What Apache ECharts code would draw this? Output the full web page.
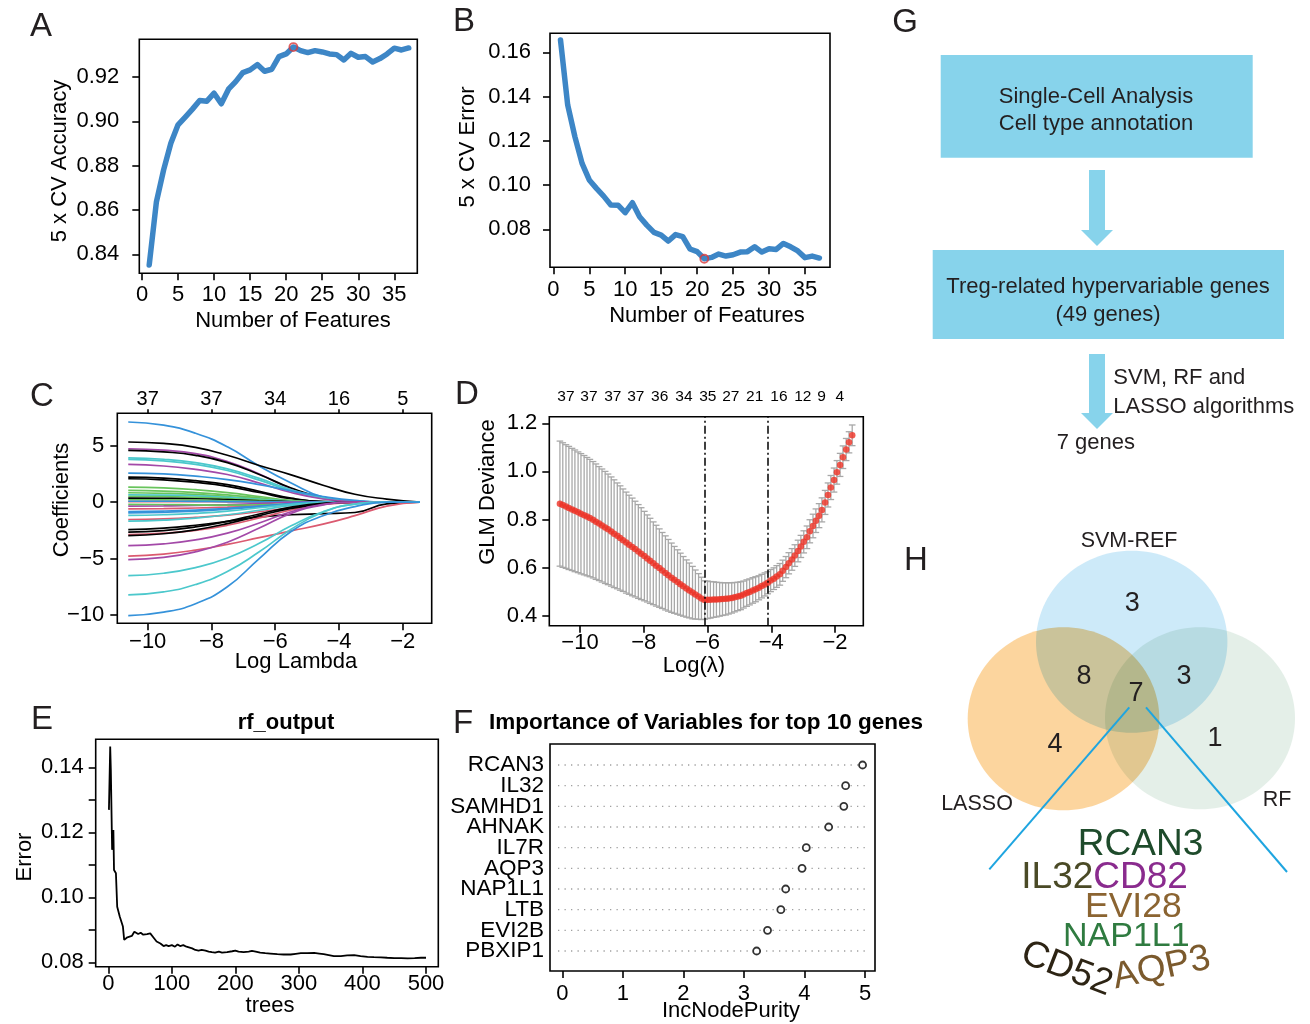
<!DOCTYPE html>
<html><head><meta charset="utf-8">
<script src="https://cdn.jsdelivr.net/npm/echarts@6/dist/echarts.min.js"></script>
<style>html,body{margin:0;padding:0;background:#fff}#c{width:1310px;height:1024px}</style>
</head><body><div id="c"></div>
<script>
// ================= DATA =================
const nFeatures = [1,2,3,4,5,6,7,8,9,10,11,12,13,14,15,16,17,18,19,20,21,22,23,24,25,26,27,28,29,30,31,32,33,34,35,36,37];
const aAccuracy = [0.8352,0.8637,0.8781,0.8901,0.8984,0.9019,0.9055,0.9094,0.9091,0.9127,0.9079,0.9145,0.9179,0.9220,0.9232,0.9256,0.9226,0.9235,0.9292,0.9304,0.9335,0.9319,0.9310,0.9319,0.9313,0.9304,0.9301,0.9277,0.9307,0.9289,0.9292,0.9268,0.9283,0.9304,0.9330,0.9322,0.9331];
const bError = [0.1656,0.1362,0.1219,0.1098,0.1023,0.0985,0.0950,0.0910,0.0909,0.0875,0.0920,0.0857,0.0819,0.0786,0.0774,0.0747,0.0776,0.0767,0.0711,0.0699,0.0667,0.0673,0.0688,0.0679,0.0685,0.0697,0.0699,0.0721,0.0697,0.0712,0.0709,0.0736,0.0721,0.0702,0.0672,0.0679,0.0670];
const featureTicks = [0,5,10,15,20,25,30,35];
const aTicks = [0.84,0.86,0.88,0.90,0.92];
const bTicks = [0.08,0.10,0.12,0.14,0.16];

// C: LASSO coefficient paths (log lambda grid, one row per gene)
const lassoLambda = [-10.61,-9.5,-8.5,-7.5,-6.5,-5.5,-4.5,-3.5,-2.5,-1.46];
const lassoPaths = [
 [7.10,6.82,6.10,4.90,3.20,1.70,0.45,0.08,0,0],
 [5.33,5.20,4.85,4.15,3.25,2.42,1.50,0.70,0.27,0],
 [4.73,4.60,4.30,3.60,2.50,1.20,0.35,0.05,0,0],
 [4.59,4.45,4.15,3.50,2.45,1.25,0.40,0.08,0,0],
 [3.93,3.80,3.50,2.95,2.10,1.10,0.40,0.10,0,0],
 [3.79,3.65,3.35,2.80,1.95,1.00,0.32,0.06,0,0],
 [3.34,3.20,2.90,2.45,1.70,0.85,0.28,0.04,0,0],
 [2.57,2.50,2.30,2.00,1.55,1.00,0.50,0.15,0,0],
 [2.22,2.12,1.90,1.55,0.95,0.35,0.05,0,0,0],
 [2.07,1.98,1.75,1.40,0.85,0.30,0.04,0,0,0],
 [1.33,1.26,1.10,0.85,0.50,0.15,0,0,0,0],
 [1.04,0.98,0.85,0.65,0.38,0.10,0,0,0,0],
 [0.83,0.78,0.68,0.50,0.28,0.07,0,0,0,0],
 [0.65,0.62,0.55,0.42,0.25,0.08,0,0,0,0],
 [0.50,0.48,0.42,0.32,0.18,0.05,0,0,0,0],
 [0.36,0.34,0.30,0.22,0.12,0.03,0,0,0,0],
 [0.21,0.20,0.17,0.12,0.06,0.01,0,0,0,0],
 [0.05,0.05,0.04,0.03,0.02,0,0,0,0,0],
 [0.08,0.08,0.07,0.05,0.03,0.01,0,0,0,0],
 [-0.36,-0.34,-0.30,-0.22,-0.12,-0.03,0,0,0,0],
 [-0.20,-0.21,-0.24,-0.27,-0.25,-0.15,-0.05,0,0,0],
 [-0.59,-0.57,-0.52,-0.45,-0.36,-0.25,-0.12,-0.03,0,0],
 [-0.83,-0.79,-0.70,-0.55,-0.35,-0.12,0,0,0,0],
 [-0.95,-0.90,-0.80,-0.63,-0.40,-0.15,-0.02,0,0,0],
 [-1.18,-1.12,-1.00,-0.80,-0.50,-0.20,-0.03,0,0,0],
 [-1.54,-1.48,-1.35,-1.15,-0.85,-0.50,-0.20,-0.04,0,0],
 [-1.69,-1.60,-1.42,-1.12,-0.72,-0.30,-0.06,0,0,0],
 [-2.43,-2.30,-2.05,-1.70,-1.32,-1.12,-1.02,-0.92,-0.15,0],
 [-2.66,-2.52,-2.20,-1.70,-1.05,-0.45,-0.10,0,0,0],
 [-2.87,-2.75,-2.50,-2.05,-1.40,-0.70,-0.20,0,0,0],
 [-2.96,-2.80,-2.45,-1.90,-1.20,-0.55,-0.15,0,0,0],
 [-3.85,-3.70,-3.35,-2.75,-1.85,-0.85,-0.20,0,0,0],
 [-4.79,-4.60,-4.25,-3.75,-3.15,-2.55,-1.95,-1.20,-0.35,0],
 [-5.09,-4.90,-4.40,-3.55,-2.30,-1.00,-0.25,0,0,0],
 [-6.51,-6.30,-5.80,-4.95,-3.65,-2.10,-0.85,-0.18,0,0],
 [-8.22,-7.95,-7.30,-6.15,-4.40,-2.40,-0.90,-0.18,0,0],
 [-10.06,-9.75,-9.00,-7.50,-5.00,-2.60,-1.20,-0.40,0,0]
];
const lassoColorKey = ['blue','black','purple','black','cyan','cyan','purple','blue','black','black','green','green','green','cyan','green','black','green','pink','blue','purple','green','pink','blue','blue','cyan','pink','cyan','black','black','pink','black','purple','pink','purple','cyan','cyan','blue'];
const cTicks = [-10,-8,-6,-4,-2];
const cYTicks = [-10,-5,0,5];
const cTopLabels = ['37','37','34','16','5'];

// D: cross-validated deviance
const dLambda = [-10.63,-10.54,-10.44,-10.35,-10.25,-10.16,-10.06,-9.97,-9.87,-9.78,
 -9.69,-9.59,-9.50,-9.40,-9.31,-9.21,-9.12,-9.02,-8.93,-8.83,
 -8.74,-8.65,-8.55,-8.46,-8.36,-8.27,-8.17,-8.08,-7.98,-7.89,
 -7.80,-7.70,-7.61,-7.51,-7.42,-7.32,-7.23,-7.13,-7.04,-6.94,
 -6.85,-6.76,-6.66,-6.57,-6.47,-6.38,-6.28,-6.19,-6.09,-6.00,
 -5.91,-5.81,-5.72,-5.62,-5.53,-5.43,-5.34,-5.24,-5.15,-5.05,
 -4.96,-4.87,-4.77,-4.68,-4.58,-4.49,-4.39,-4.30,-4.20,-4.11,
 -4.02,-3.92,-3.83,-3.73,-3.64,-3.54,-3.45,-3.35,-3.26,-3.16,
 -3.07,-2.98,-2.88,-2.79,-2.69,-2.60,-2.50,-2.41,-2.31,-2.22,
 -2.13,-2.03,-1.94,-1.84,-1.75,-1.65,-1.56,-1.46];
const dMean = [0.866,0.860,0.854,0.848,0.842,0.836,0.830,0.824,0.818,0.812,
 0.806,0.799,0.791,0.783,0.775,0.767,0.759,0.750,0.741,0.732,
 0.723,0.714,0.704,0.695,0.686,0.677,0.667,0.658,0.648,0.638,
 0.628,0.618,0.608,0.598,0.588,0.578,0.568,0.558,0.549,0.540,
 0.531,0.522,0.513,0.505,0.496,0.488,0.480,0.472,0.465,0.466,
 0.466,0.467,0.467,0.468,0.469,0.470,0.472,0.474,0.477,0.480,
 0.483,0.488,0.494,0.499,0.505,0.510,0.516,0.523,0.530,0.537,
 0.546,0.554,0.563,0.572,0.587,0.602,0.618,0.634,0.650,0.669,
 0.688,0.707,0.726,0.751,0.773,0.795,0.816,0.840,0.871,0.902,
 0.933,0.964,0.996,1.027,1.059,1.091,1.121,1.150];
const dSe = [0.260,0.259,0.257,0.256,0.254,0.253,0.251,0.250,0.248,0.246,
 0.244,0.242,0.240,0.237,0.235,0.233,0.230,0.227,0.224,0.220,
 0.217,0.213,0.210,0.206,0.203,0.199,0.195,0.191,0.186,0.181,
 0.177,0.172,0.168,0.163,0.158,0.154,0.149,0.144,0.139,0.134,
 0.129,0.124,0.119,0.114,0.109,0.102,0.095,0.088,0.080,0.078,
 0.076,0.074,0.072,0.070,0.068,0.067,0.065,0.063,0.061,0.059,
 0.058,0.056,0.055,0.054,0.053,0.052,0.050,0.049,0.048,0.046,
 0.046,0.045,0.045,0.045,0.044,0.044,0.044,0.045,0.045,0.045,
 0.046,0.046,0.047,0.048,0.049,0.049,0.050,0.050,0.050,0.050,
 0.050,0.050,0.049,0.048,0.047,0.046,0.044,0.043];
const dLambdaMin = -6.09;
const dLambda1se = -4.11;
const dYTicks = [0.4,0.6,0.8,1.0,1.2];
const dTopAt = [-10.44,-9.72,-8.97,-8.25,-7.50,-6.74,-5.99,-5.27,-4.52,-3.76,-3.01,-2.42,-1.85];
const dTopLabels = ['37','37','37','37','36','34','35','27','21','16','12','9','4'];

// E: random forest OOB error
const eTrees = [1,3,4,6,8,9,12,14,18,23,25,27,30,33,37,41,44,47,51,55,61,66,68,72,76,82,87,91,95,100,105,109,113,118,123,126,132,137,142,147,153,158,163,168,174,179,187,195,200,205,213,221,226,232,239,247,255,266,276,287,295,303,313,324,332,339,347,355,366,376,387,397,408,418,429,439,450,461,471,482,492,500];
const eError = [0.1269,0.1464,0.1392,0.1146,0.1207,0.1084,0.1074,0.0971,0.0941,0.0910,0.0869,0.0874,0.0877,0.0871,0.0881,0.0894,0.0889,0.0887,0.0891,0.0885,0.0887,0.0889,0.0884,0.0874,0.0864,0.0858,0.0850,0.0853,0.0850,0.0853,0.0848,0.0855,0.0850,0.0853,0.0848,0.0850,0.0843,0.0838,0.0836,0.0838,0.0836,0.0833,0.0831,0.0830,0.0833,0.0830,0.0831,0.0834,0.0836,0.0833,0.0831,0.0833,0.0835,0.0833,0.0830,0.0828,0.0827,0.0825,0.0824,0.0824,0.0826,0.0828,0.0828,0.0829,0.0827,0.0825,0.0822,0.0819,0.0819,0.0821,0.0822,0.0819,0.0817,0.0816,0.0815,0.0814,0.0813,0.0813,0.0812,0.0813,0.0814,0.0814];
const eXTicks = [0,100,200,300,400,500];
const eYTicks = [0.08,0.09,0.10,0.11,0.12,0.13,0.14];
const eYLabels = [0.08,0.10,0.12,0.14];

// F: variable importance
const fGenes = ['RCAN3','IL32','SAMHD1','AHNAK','IL7R','AQP3','NAP1L1','LTB','EVI2B','PBXIP1'];
const fPurity = [4.96,4.68,4.65,4.40,4.03,3.96,3.69,3.61,3.39,3.21];
const fXTicks = [0,1,2,3,4,5];

// G: workflow
const gStep1 = ['Single-Cell Analysis','Cell type annotation'];
const gStep2 = ['Treg-related hypervariable genes','(49 genes)'];
const gMethod = ['SVM, RF and','LASSO algorithms'];
const gResult = '7 genes';

// H: Venn + word cloud
const vennSets = ['SVM-REF','LASSO','RF'];
const vennCounts = {svmOnly:3, svmLasso:8, svmRf:3, all:7, lassoOnly:4, rfOnly:1};
const cloudWords = ['RCAN3','IL32','CD82','EVI28','NAP1L1','CD52','AQP3'];

// ================= LAYOUT / STYLE =================
const FONT = '"Liberation Sans", Arial, Helvetica, sans-serif';
const P = {
 A:{box:[139.3,39.3,417.3,273.3], xCal:[0,142.0,35,394.3], yCal:[0.84,254.3,0.92,77.0]},
 B:{box:[550,33.3,830,267.3], xCal:[0,553.3,35,805.0], yCal:[0.08,229.3,0.16,52.3]},
 C:{box:[117.3,413.3,431.7,623.3], xCal:[-10,147.7,-2,402.7], yCal:[-10,615.0,5,445.7]},
 D:{box:[549.3,416.7,863.3,625.7], xCal:[-10,580.0,-2,835.0], yCal:[0.4,615.7,1.2,423.3]},
 E:{box:[95.7,739.3,438.3,966.7], xCal:[0,108.3,500,426.0], yCal:[0.08,962.3,0.14,767.3]},
 F:{box:[550,744,875,971], xCal:[0,562.3,5,865.0], yCal:[1,951.0,10,765.0]}
};
const order = ['A','B','C','D','E','F'];
function rng(cal, pa, pb){ const k=(cal[2]-cal[0])/(cal[3]-cal[1]); return [cal[0]+(pa-cal[1])*k, cal[0]+(pb-cal[1])*k]; }
order.forEach(k=>{ const p=P[k]; p.xr=rng(p.xCal,p.box[0],p.box[2]); p.yr=rng(p.yCal,p.box[3],p.box[1]); });

const grids = order.map(k=>{ const b=P[k].box; return {left:b[0], top:b[1], width:b[2]-b[0], height:b[3]-b[1], show:true, borderColor:'#000', borderWidth:1.6, backgroundColor:'rgba(0,0,0,0)', containLabel:false}; });

const minus = v => (v<0 ? '\u2212'+Math.abs(v) : String(v));
function axis(gi, pos, range, o){
 return {
  type:'value', gridIndex:gi, position:pos, min:range[0], max:range[1], silent:true,
  axisLine:{show:false, onZero:false},
  splitLine:{show:false},
  axisTick:{show:!!o.ticks, customValues:o.ticks, length:o.tickLen||7, lineStyle:{color:'#000', width:1.6}},
  axisLabel:{show:!!o.labels, customValues:o.labels, formatter:o.fmt, margin:o.margin, fontSize:o.fs||22, color:'#000', fontFamily:FONT,
   showMinLabel:true, showMaxLabel:true, hideOverlap:false}
 };
}
const nearestLabel = (arr, labels) => v => { let bi=0; arr.forEach((a,i)=>{ if(Math.abs(a-v)<Math.abs(arr[bi]-v)) bi=i; }); return labels[bi]; };

const xAxes = [
 axis(0,'bottom',P.A.xr,{ticks:featureTicks, labels:featureTicks, fmt:v=>String(v), margin:11}),
 axis(1,'bottom',P.B.xr,{ticks:featureTicks, labels:featureTicks, fmt:v=>String(v), margin:12}),
 axis(2,'bottom',P.C.xr,{ticks:cTicks, labels:cTicks, fmt:minus, margin:8}),
 axis(2,'top',P.C.xr,{ticks:cTicks, labels:cTicks, fmt:nearestLabel(cTicks,cTopLabels), margin:4, tickLen:4, fs:20}),
 axis(3,'bottom',P.D.xr,{ticks:cTicks, labels:cTicks, fmt:minus, margin:6}),
 axis(3,'top',P.D.xr,{ticks:null, labels:dTopAt, fmt:nearestLabel(dTopAt,dTopLabels), margin:12, fs:15.5}),
 axis(4,'bottom',P.E.xr,{ticks:eXTicks, labels:eXTicks, fmt:v=>String(v), margin:6}),
 axis(5,'bottom',P.F.xr,{ticks:fXTicks, labels:fXTicks, fmt:v=>String(v), margin:12})
];
const fPos = fGenes.map((g,i)=>fGenes.length-i);
const fGeneLabel = nearestLabel(fPos,fGenes);
// gene labels split over two label-only axes so that adjacent (tightly packed) labels are not culled
const fPosA = fPos.filter((p,i)=>i%2===0), fPosB = fPos.filter((p,i)=>i%2===1);
const yAxes = [
 axis(0,'left',P.A.yr,{ticks:aTicks, labels:aTicks, fmt:v=>v.toFixed(2), margin:20}),
 axis(1,'left',P.B.yr,{ticks:bTicks, labels:bTicks, fmt:v=>v.toFixed(2), margin:19}),
 axis(2,'left',P.C.yr,{ticks:cYTicks, labels:cYTicks, fmt:minus, margin:13}),
 axis(3,'left',P.D.yr,{ticks:dYTicks, labels:dYTicks, fmt:v=>v.toFixed(1), margin:12}),
 axis(4,'left',P.E.yr,{ticks:eYTicks, labels:eYLabels, fmt:v=>v.toFixed(2), margin:12}),
 axis(5,'left',P.F.yr,{ticks:null, labels:fPosA, fmt:fGeneLabel, margin:6, fs:22.5}),
 axis(5,'left',P.F.yr,{ticks:null, labels:fPosB, fmt:fGeneLabel, margin:6, fs:22.5})
];

const lassoPalette = {black:'#000000', pink:'#DB5A70', green:'#68C45C', blue:'#3592DA', cyan:'#4CC8CC', purple:'#A349A8'};
const iBestA = aAccuracy.indexOf(Math.max(...aAccuracy));
const iBestB = bError.indexOf(Math.min(...bError));

const series = [];
// A
series.push({type:'line', xAxisIndex:0, yAxisIndex:0, silent:true, showSymbol:false, data:nFeatures.map((f,i)=>[f,aAccuracy[i]]), lineStyle:{color:'#3D86C6', width:5.5, cap:'round', join:'round'}});
series.push({type:'scatter', xAxisIndex:0, yAxisIndex:0, silent:true, data:[[nFeatures[iBestA],aAccuracy[iBestA]]], symbol:'circle', symbolSize:8, itemStyle:{color:'rgba(0,0,0,0)', borderColor:'#D9383A', borderWidth:1.8}, z:5});
// B
series.push({type:'line', xAxisIndex:1, yAxisIndex:1, silent:true, showSymbol:false, data:nFeatures.map((f,i)=>[f,bError[i]]), lineStyle:{color:'#3D86C6', width:5.5, cap:'round', join:'round'}});
series.push({type:'scatter', xAxisIndex:1, yAxisIndex:1, silent:true, data:[[nFeatures[iBestB],bError[iBestB]]], symbol:'circle', symbolSize:8, itemStyle:{color:'rgba(0,0,0,0)', borderColor:'#D9383A', borderWidth:1.8}, z:5});
// C
lassoPaths.forEach((p,i)=>{
 series.push({type:'line', xAxisIndex:2, yAxisIndex:2, silent:true, showSymbol:false, smooth:0.5,
  data:lassoLambda.map((x,j)=>[x,p[j]]), lineStyle:{color:lassoPalette[lassoColorKey[i]], width:1.7}});
});
// D
series.push({type:'custom', xAxisIndex:4, yAxisIndex:3, silent:true,
 data:dLambda.map((x,i)=>[x, dMean[i]-dSe[i], dMean[i]+dSe[i]]),
 encode:{x:0, y:[1,2]},
 renderItem:(params, api)=>{
  const x=api.value(0), lo=api.value(1), hi=api.value(2);
  const p1=api.coord([x,hi]), p2=api.coord([x,lo]); const w=3.3;
  const st={stroke:'#A8A8A8', lineWidth:1.3};
  return {type:'group', children:[
   {type:'line', shape:{x1:p1[0],y1:p1[1],x2:p2[0],y2:p2[1]}, style:st},
   {type:'line', shape:{x1:p1[0]-w,y1:p1[1],x2:p1[0]+w,y2:p1[1]}, style:st},
   {type:'line', shape:{x1:p2[0]-w,y1:p2[1],x2:p2[0]+w,y2:p2[1]}, style:st}
  ]};
 }});
series.push({type:'scatter', xAxisIndex:4, yAxisIndex:3, silent:true, symbolSize:6.5, itemStyle:{color:'#EE3124'},
 data:dLambda.map((x,i)=>[x,dMean[i]]), z:4,
 markLine:{silent:true, symbol:'none', label:{show:false}, animation:false,
  lineStyle:{color:'#000', width:1.5, type:[8,3,2,3]},
  data:[{xAxis:dLambdaMin},{xAxis:dLambda1se}]}});
// E
series.push({type:'line', xAxisIndex:6, yAxisIndex:4, silent:true, showSymbol:false, data:eTrees.map((t,i)=>[t,eError[i]]), lineStyle:{color:'#000', width:1.8}});
// F
series.push({type:'custom', xAxisIndex:7, yAxisIndex:5, silent:true,
 data:fPos.map(y=>[P.F.xr[0], y]),
 renderItem:(params, api)=>{
  const y=api.value(1);
  const a=api.coord([P.F.xr[0], y]), b=api.coord([P.F.xr[1], y]);
  return {type:'line', shape:{x1:a[0]+8, y1:a[1], x2:b[0]-5, y2:b[1]}, style:{stroke:'#A0A0A0', lineWidth:1.3, lineDash:[1.3,5.2]}};
 }});
series.push({type:'scatter', xAxisIndex:7, yAxisIndex:5, silent:true, symbol:'circle', symbolSize:7,
 itemStyle:{color:'#fff', borderColor:'#000', borderWidth:1.8}, z:5,
 data:fPurity.map((v,i)=>[v,fPos[i]])});

// ================= GRAPHIC (titles, workflow, venn, word cloud) =================
function txt(x,y,s,o){ o=o||{}; return {type:'text', x:x, y:y, rotation:o.rot||0, silent:true, z:20,
 style:{text:s, align:o.align||'center', verticalAlign:o.va||'middle', fontSize:o.fs||22, fontFamily:FONT, fontWeight:o.fw||'normal', fill:o.color||'#000'}}; }
const R90 = Math.PI/2;
const g = [];
// panel letters
[['A',41,27],['B',464,22],['C',42,397],['D',467,395],['E',42,720],['F',463,724],['G',905,23],['H',916,561]].forEach(l=>g.push(txt(l[1],l[2],l[0],{fs:33,color:'#231F20'})));
// axis titles
g.push(txt(60,161,'5 x CV Accuracy',{rot:R90}));
g.push(txt(293,321,'Number of Features'));
g.push(txt(468,147,'5 x CV Error',{rot:R90}));
g.push(txt(707,316,'Number of Features'));
g.push(txt(62,500,'Coefficients',{rot:R90}));
g.push(txt(296,662,'Log Lambda'));
g.push(txt(488,492,'GLM Deviance',{rot:R90}));
g.push(txt(694,666,'Log(\u03BB)'));
g.push(txt(286,723,'rf_output',{fw:'bold'}));
g.push(txt(25,857,'Error',{rot:R90}));
g.push(txt(270,1006,'trees'));
g.push(txt(706,723,'Importance of Variables for top 10 genes',{fw:'bold',fs:22.5}));
g.push(txt(731,1011,'IncNodePurity'));
// workflow
const FLOW = '#87D3EB';
g.push({type:'rect', silent:true, shape:{x:940.7,y:55,width:312,height:102.7}, style:{fill:FLOW}});
g.push({type:'rect', silent:true, shape:{x:932.7,y:250,width:351.3,height:89}, style:{fill:FLOW}});
g.push({type:'polygon', silent:true, shape:{points:[[1089,170],[1105,170],[1105,230],[1113,230],[1097,246],[1081,230],[1089,230]]}, style:{fill:FLOW}});
g.push({type:'polygon', silent:true, shape:{points:[[1089,354],[1105,354],[1105,413],[1113,413],[1097,429],[1081,413],[1089,413]]}, style:{fill:FLOW}});
g.push(txt(1096,96.7,gStep1[0],{color:'#231F20'}));
g.push(txt(1096,124,gStep1[1],{color:'#231F20'}));
g.push(txt(1108,287.3,gStep2[0],{color:'#231F20'}));
g.push(txt(1108,315,gStep2[1],{color:'#231F20'}));
g.push(txt(1113.3,378.3,gMethod[0],{align:'left',color:'#231F20'}));
g.push(txt(1113.3,406.7,gMethod[1],{align:'left',color:'#231F20'}));
g.push(txt(1056.7,443.3,gResult,{align:'left',color:'#231F20'}));
// venn
g.push({type:'ellipse', silent:true, shape:{cx:1131.7,cy:641.7,rx:95.7,ry:91}, style:{fill:'#CDEAF9', blend:'multiply'}});
g.push({type:'ellipse', silent:true, shape:{cx:1063.5,cy:718.7,rx:95.8,ry:91.5}, style:{fill:'#FCD59E', blend:'multiply'}});
g.push({type:'ellipse', silent:true, shape:{cx:1200,cy:718.3,rx:95,ry:91}, style:{fill:'#E4EFE8', blend:'multiply'}});
g.push(txt(1129,541,vennSets[0],{fs:21.5,color:'#231F20'}));
g.push(txt(977,804,vennSets[1],{fs:21.5,color:'#231F20'}));
g.push(txt(1277,800,vennSets[2],{fs:21.5,color:'#231F20'}));
[[vennCounts.svmOnly,1132.3,604],[vennCounts.svmLasso,1084,676.7],[vennCounts.svmRf,1184,676.7],[vennCounts.all,1136,694],[vennCounts.lassoOnly,1055,745],[vennCounts.rfOnly,1215,738.3]]
 .forEach(v=>g.push(txt(v[1],v[2],String(v[0]),{fs:27,color:'#231F20'})));
g.push({type:'line', silent:true, z:21, shape:{x1:1129.3,y1:707.3,x2:989.3,y2:869.3}, style:{stroke:'#1EA5E0', lineWidth:2}});
g.push({type:'line', silent:true, z:21, shape:{x1:1146,y1:707.3,x2:1287,y2:872}, style:{stroke:'#1EA5E0', lineWidth:2}});
// word cloud
g.push(txt(1140.5,844.4,cloudWords[0],{fs:37,color:'#1E4B2B'}));
g.push(txt(1093.3,877.3,cloudWords[1],{fs:37,align:'right',color:'#4A4A26'}));
g.push(txt(1093.3,877.3,cloudWords[2],{fs:37,align:'left',color:'#8A2B8E'}));
g.push(txt(1133.3,907.3,cloudWords[3],{fs:35.5,color:'#8B6431'}));
g.push(txt(1126.3,936.7,cloudWords[4],{fs:34,color:'#2F7B40'}));
g.push(txt(1066.7,969,cloudWords[5],{fs:37,rot:-0.37,color:'#2D2414'}));
g.push(txt(1161.7,968.3,cloudWords[6],{fs:37,rot:0.21,color:'#7B5A2D'}));

const option = {
 animation:false,
 backgroundColor:'#ffffff',
 textStyle:{fontFamily:FONT},
 grid:grids, xAxis:xAxes, yAxis:yAxes, series:series, graphic:g
};
const chart = echarts.init(document.getElementById('c'), null, {renderer:'canvas', width:1310, height:1024});
chart.setOption(option);
</script>
</body></html>
